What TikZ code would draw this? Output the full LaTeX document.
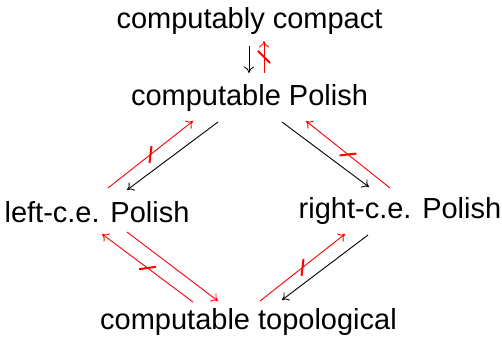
\documentclass[tikz,border=0pt]{standalone}
\usepackage{fontspec}
\setmainfont{Liberation Sans}
\usepackage{xcolor}
\definecolor{Red}{HTML}{FF0000}
\colorlet{redx}{Red}
\usepackage{tikz}
\usetikzlibrary{arrows.meta,calc}

\begin{document}
\begin{tikzpicture}[x=0.5pt,y=-0.5pt, every node/.style={font=\fontsize{14.5}{17}\selectfont,inner sep=0pt,anchor=base},
  imp/.style={-{To[length=3.2pt,width=5pt]},line width=0.45pt},
  nimp/.style={imp,redx},
  strike/.style={midway,sloped,anchor=center,draw=redx,line width=1pt,minimum width=0pt,minimum height=8.5pt,rotate=-45}]
\useasboundingbox (0,0) rectangle (502,337);
\node (cc) at (249.5,28) {computably compact};
\node (cp) at (249.5,105) {computable Polish};
\node (lp) at (97,222) {left-c.e. Polish};
\node (rp) at (400,218) {right-c.e. Polish};
\node (ct) at (248.5,329) {computable topological};
\draw[imp] ($(cc.base)+(-0.5,18)$) -- ($(cp.base)+(-0.5,-32)$);
\draw[nimp] ($(cp.base)+(14.5,-32)$) -- node[strike]{} ($(cc.base)+(14.5,13)$);
\draw[nimp] ($(lp.base)+(11,-34)$) -- node[strike]{} ($(cp.base)+(-56.5,16)$);
\draw[imp] ($(cp.base)+(-31.5,17)$) -- ($(lp.base)+(30,-32)$);
\draw[imp] ($(cp.base)+(32.5,17)$) -- ($(rp.base)+(-31,-31)$);
\draw[nimp] ($(rp.base)+(-10,-30)$) -- node[strike]{} ($(cp.base)+(56.5,16)$);
\draw[nimp] ($(lp.base)+(30,10)$) -- ($(ct.base)+(-30.5,-28)$);
\draw[nimp] ($(ct.base)+(-55.5,-27)$) -- node[strike]{} ($(lp.base)+(5,12)$);
\draw[nimp] ($(ct.base)+(11.5,-28)$) -- node[strike]{} ($(rp.base)+(-55,16)$);
\draw[imp] ($(rp.base)+(-32,17)$) -- ($(ct.base)+(33.5,-29)$);
\end{tikzpicture}
\end{document}
